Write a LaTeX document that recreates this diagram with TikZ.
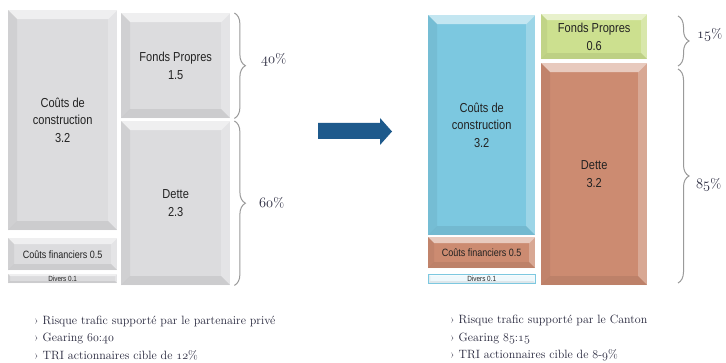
\documentclass[tikz,border=0pt]{standalone}
\usepackage{fontspec}
\newfontfamily\lsans[FakeStretch=0.85]{Liberation Sans}
\usetikzlibrary{decorations.pathreplacing}
\newcommand\osn[1]{{\usefont{OML}{cmm}{m}{it}#1}}
\definecolor{boxgray}{HTML}{DCDCDE}
\definecolor{boxblue}{HTML}{7CC8E0}
\definecolor{boxgreen}{HTML}{CCE08F}
\definecolor{boxsalmon}{HTML}{CC8B71}
\definecolor{boxpale}{HTML}{EEF8FC}
\definecolor{arrowblue}{HTML}{1E5A8C}
\definecolor{bracegray}{HTML}{9A9A9A}
\definecolor{txt}{HTML}{222222}
\definecolor{bullettxt}{HTML}{24243A}
\begin{document}
\begin{tikzpicture}[x=1pt,y=-1pt,
  bv/.store in=\bvs, bv=9,
  bevbox/.style={draw=none, fill=#1, inner sep=0pt, anchor=north west, align=center, text=txt,
    font=\lsans\fontsize{13}{17.5}\selectfont,
    path picture={
      \fill[white,opacity=.55] (path picture bounding box.north west) -- (path picture bounding box.north east)
        -- ([xshift=-\bvs pt,yshift=-\bvs pt]path picture bounding box.north east)
        -- ([xshift=\bvs pt,yshift=-\bvs pt]path picture bounding box.north west) -- cycle;
      \fill[black,opacity=.05] (path picture bounding box.north west)
        -- ([xshift=\bvs pt,yshift=-\bvs pt]path picture bounding box.north west)
        -- ([xshift=\bvs pt,yshift=\bvs pt]path picture bounding box.south west)
        -- (path picture bounding box.south west) -- cycle;
      \fill[white,opacity=.25] (path picture bounding box.north east)
        -- ([xshift=-\bvs pt,yshift=-\bvs pt]path picture bounding box.north east)
        -- ([xshift=-\bvs pt,yshift=\bvs pt]path picture bounding box.south east)
        -- (path picture bounding box.south east) -- cycle;
      \fill[black,opacity=.07] (path picture bounding box.south west) -- (path picture bounding box.south east)
        -- ([xshift=-\bvs pt,yshift=\bvs pt]path picture bounding box.south east)
        -- ([xshift=\bvs pt,yshift=\bvs pt]path picture bounding box.south west) -- cycle;
    }},
  fin/.style={font=\lsans\fontsize{10.6}{12}\selectfont, bv=6},
  div/.style={font=\lsans\fontsize{7.5}{8}\selectfont, bv=2},
  brc/.style={draw=bracegray, line width=1pt, decorate, decoration={brace, amplitude=11pt}},
  pct/.style={anchor=west, text=bullettxt, font=\fontsize{13.5}{15}\selectfont, inner sep=0pt},
  bul/.style={anchor=west, align=left, text=bullettxt, font=\fontsize{12}{17.5}\selectfont, inner sep=0pt}
]
\useasboundingbox (0,0) rectangle (726,363);
\fill[white] (0,0) rectangle (726,363);

% left group
\node[bevbox=boxgray, minimum width=109pt, minimum height=220pt] (LCC) at (8,10) {Coûts de\\construction\\3.2};
\node[bevbox=boxgray, fin, minimum width=109pt, minimum height=32pt] (LCF) at (8,238) {Coûts financiers 0.5};
\node[bevbox=boxgray, div, minimum width=109pt, minimum height=9pt] (LDV) at (8,274) {Divers 0.1};
\node[bevbox=boxgray, minimum width=109pt, minimum height=105pt] (LFP) at (121,13) {Fonds Propres\\1.5};
\node[bevbox=boxgray, minimum width=109pt, minimum height=164pt] (LDE) at (121,121) {Dette\\2.3};

\draw[brc] ([xshift=4pt]LFP.north east) -- ([xshift=4pt]LFP.south east);
\draw[brc] ([xshift=4pt]LDE.north east) -- ([xshift=4pt]LDE.south east);
\node[pct] (P40) at (261,60) {\osn{40}\%};
\node[pct] (P60) at (259,203) {\osn{60}\%};

% arrow
\fill[arrowblue] (318,123) -- (380,123) -- (380,118) -- (392,131.5) -- (380,145) -- (380,139) -- (318,139) -- cycle;

% right group
\node[bevbox=boxblue, minimum width=107pt, minimum height=220pt] (RCC) at (428,15) {Coûts de\\construction\\3.2};
\node[bevbox=boxsalmon, fin, minimum width=107pt, minimum height=31pt] (RCF) at (428,237) {Coûts financiers 0.5};
\node[bevbox=boxpale, div, minimum width=107pt, minimum height=9pt, draw=boxblue, line width=0.5pt] (RDV) at (428,274) {Divers 0.1};
\node[bevbox=boxgreen, minimum width=106pt, minimum height=45pt, bv=6] (RFP) at (541,14) {Fonds Propres\\0.6};
\node[bevbox=boxsalmon, minimum width=106pt, minimum height=222pt] (RDE) at (541,63) {Dette\\3.2};

\draw[brc] (678,16) -- (678,66);
\draw[brc] (678,69) -- (678,283);
\node[pct] (P15) at (697,35) {\osn{15}\%};
\node[pct] (P85) at (696,185) {\osn{85}\%};

% bullet text
\node[bul] (TL) at (34,338) {› Risque trafic supporté par le partenaire privé\\› Gearing \osn{60}:\osn{40}\\› TRI actionnaires cible de \osn{12}\%};
\node[bul] (TR) at (450,338) {› Risque trafic supporté par le Canton\\› Gearing \osn{85}:\osn{15}\\› TRI actionnaires cible de \osn{8}-\osn{9}\%};
\end{tikzpicture}
\end{document}
